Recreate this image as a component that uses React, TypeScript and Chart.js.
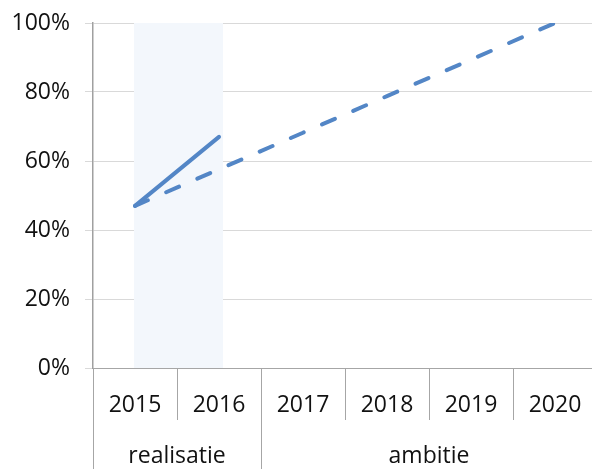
import React, { useEffect, useRef } from "react";
import { Chart, registerables } from "chart.js";

Chart.register(...registerables);

const years = ["2015", "2016", "2017", "2018", "2019", "2020"];
const realisatie = [47, 67, null, null, null, null];
const ambitie = [47, 57.6, 68.2, 78.8, 89.4, 100];
const groupLabels = ["realisatie", "ambitie"];
const groupSpans = [2, 4];
const yTicks = [0, 20, 40, 60, 80, 100];

const FONT = "'Open Sans', 'Liberation Sans', sans-serif";
const LINE = "#5386C6";

const axisPlugin = {
  id: "groupAxis",
  beforeDatasetsDraw(chart: any) {
    const { ctx, chartArea, scales } = chart;
    const x = scales.x;
    ctx.save();
    ctx.fillStyle = "#F3F7FC";
    const l = x.getPixelForValue(0) - 1;
    const r = x.getPixelForValue(1) + 4;
    ctx.fillRect(l, chartArea.top, r - l, chartArea.bottom - chartArea.top);
    ctx.restore();
  },
  afterDraw(chart: any) {
    const { ctx, chartArea, scales } = chart;
    const x = scales.x;
    const step = x.getPixelForValue(1) - x.getPixelForValue(0);
    const bottom = chartArea.bottom;
    ctx.save();
    ctx.strokeStyle = "#A6A6A6";
    ctx.lineWidth = 1;
    const longIdx: number[] = [0];
    let acc = 0;
    groupSpans.forEach((s) => {
      acc += s;
      longIdx.push(acc);
    });
    for (let i = 0; i <= years.length; i++) {
      const px = Math.round(x.getPixelForValue(0) - step / 2 + i * step) + 0.5;
      const isLong = longIdx.includes(i);
      ctx.beginPath();
      ctx.moveTo(px, bottom);
      ctx.lineTo(px, isLong ? chart.height : bottom + 52);
      ctx.stroke();
    }
    ctx.fillStyle = "#111";
    ctx.font = `23px ${FONT}`;
    ctx.textAlign = "center";
    ctx.textBaseline = "alphabetic";
    years.forEach((y, i) => {
      ctx.fillText(y, x.getPixelForValue(i), bottom + 44);
    });
    let start = 0;
    groupLabels.forEach((g, gi) => {
      const s = groupSpans[gi];
      const cx = (x.getPixelForValue(start) + x.getPixelForValue(start + s - 1)) / 2;
      ctx.fillText(g, cx, bottom + 95);
      start += s;
    });
    ctx.restore();
  },
};

export default function App() {
  const ref = useRef<HTMLCanvasElement>(null);
  useEffect(() => {
    document.body.style.margin = "0";
    const chart = new Chart(ref.current!, {
      type: "line",
      data: {
        labels: years,
        datasets: [
          {
            label: "ambitie",
            data: ambitie,
            borderColor: LINE,
            borderWidth: 4,
            borderDash: [14, 20],
            borderCapStyle: "round",
            pointRadius: 0,
            fill: false,
            tension: 0,
          },
          {
            label: "realisatie",
            data: realisatie,
            borderColor: LINE,
            borderWidth: 4,
            borderCapStyle: "round",
            pointRadius: 0,
            fill: false,
            tension: 0,
          },
        ],
      },
      options: {
        animation: false,
        responsive: false,
        layout: { padding: { top: 23, right: 3, left: 0, bottom: 0 } },
        plugins: { legend: { display: false }, tooltip: { enabled: false } },
        scales: {
          x: {
            offset: true,
            grid: { display: false },
            ticks: { display: false },
            border: { display: true, color: "#A6A6A6", width: 1 },
            afterFit: (s: any) => {
              s.height = 101;
            },
          },
          y: {
            min: 0,
            max: 100,
            afterBuildTicks: (s: any) => {
              s.ticks = yTicks.map((v) => ({ value: v }));
            },
            ticks: {
              callback: (v: any) => v + "%",
              color: "#111",
              font: { family: FONT, size: 23 },
              padding: 15,
            },
            grid: { color: "#D9D9D9", lineWidth: 1, tickLength: 8 },
            border: { display: true, color: "#A0A0A0", width: 1.5 },
            afterFit: (s: any) => {
              s.width = 93;
              s.paddingTop = 10;
              s.paddingBottom = 10;
            },
          },
        },
      },
      plugins: [axisPlugin],
    });
    return () => chart.destroy();
  }, []);
  return (
    <div style={{ position: "fixed", left: 0, top: 0, width: 592, height: 469, overflow: "hidden", background: "#fff" }}>
      <canvas ref={ref} width={600} height={469} style={{ width: 600, height: 469, display: "block" }} />
    </div>
  );
}
